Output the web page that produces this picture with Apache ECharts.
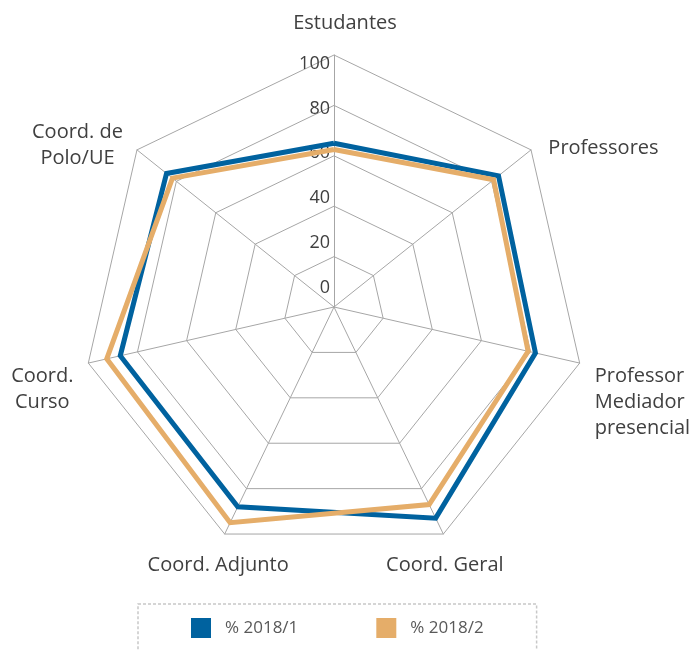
<!DOCTYPE html>
<html>
<head>
<meta charset="utf-8">
<script src="https://cdn.jsdelivr.net/npm/echarts@6/dist/echarts.min.js"></script>
<style>html,body{margin:0;padding:0;background:#fff}#c{width:694px;height:650px}</style>
</head>
<body>
<div id="c"></div>
<script>
// Indicators in ECharts order (counter-clockwise from top)
const categories = ['Estudantes', 'Coord. de\nPolo/UE', 'Coord.\nCurso', 'Coord. Adjunto', 'Coord. Geral', 'Professor\nMediador\npresencial', 'Professores'];
const seriesNames = ['% 2018/1', '% 2018/2'];
const values2018_1 = [65, 85, 87, 88, 93, 82, 83.5];
const values2018_2 = [62.5, 82, 92.5, 95, 87, 79, 81];
const axisMax = 100;

// name label placement per indicator (styling only)
const nameGaps = [15, 7, 0, 15, 15, 0, 3];
const nameStyles = [
  {align: 'center', verticalAlign: 'bottom', padding: [0, 0, 4, 22]},
  {align: 'center', verticalAlign: 'middle', padding: [0, 108, 0, 0]},
  {align: 'center', verticalAlign: 'top', padding: [0, 92, 0, 0]},
  {align: 'center', verticalAlign: 'top', padding: [5, 0, 0, 0]},
  {align: 'center', verticalAlign: 'top', padding: [5, 10, 0, 0]},
  {align: 'left', verticalAlign: 'top', padding: [0, 0, 0, 15]},
  {align: 'left', verticalAlign: 'middle', padding: [0, 0, 0, 15]}
];

const colors = ['#00629F', '#E5AD69'];
const gridColor = '#a6a6a6';
const textColor = '#404040';
const FONT = '"Open Sans", "Noto Sans", sans-serif';

const indicators = categories.map((c, i) => ({
  name: c, min: 0, max: axisMax,
  nameGap: nameGaps[i],
  nameTextStyle: nameStyles[i]
}));
const labelIndicators = categories.map((c, i) => (
  i === 0 ? {name: '', min: 0, max: axisMax, axisLabel: {show: true}} : {name: '', min: 0, max: axisMax}
));

const chart = echarts.init(document.getElementById('c'));
chart.setOption({
  animation: false,
  textStyle: {fontFamily: FONT},
  legend: {
    data: seriesNames,
    left: 138, top: 604,
    icon: 'rect', itemWidth: 20, itemHeight: 20, itemGap: 78,
    padding: [14, 53, 20, 53],
    borderColor: '#c8c8c8', borderWidth: 1.5, borderType: [3, 2],
    itemStyle: {borderWidth: 0},
    textStyle: {fontSize: 17, color: '#595959', fontFamily: FONT, padding: [0, 0, 0, 9]},
    selectedMode: false
  },
  radar: [{
    center: [334, 307],
    radius: 252,
    splitNumber: 5,
    shape: 'polygon',
    indicator: indicators,
    nameGap: 15,
    axisName: {color: textColor, fontSize: 20, lineHeight: 26, fontFamily: FONT},
    axisLine: {lineStyle: {color: gridColor, width: 1}},
    splitLine: {lineStyle: {color: gridColor, width: 1}},
    splitArea: {show: false},
    axisLabel: {show: false}
  }, {
    center: [334, 288],
    radius: 224.5,
    splitNumber: 5,
    shape: 'polygon',
    indicator: labelIndicators,
    axisName: {show: false},
    axisLine: {show: false},
    splitLine: {show: false},
    splitArea: {show: false},
    axisTick: {show: false},
    axisLabel: {show: false, margin: 4, color: textColor, fontSize: 18, fontFamily: FONT}
  }],
  series: [{
    type: 'radar',
    radarIndex: 0,
    symbol: 'none',
    data: [
      {name: seriesNames[0], value: values2018_1,
        lineStyle: {color: colors[0], width: 5, join: 'miter'}, itemStyle: {color: colors[0]}},
      {name: seriesNames[1], value: values2018_2,
        lineStyle: {color: colors[1], width: 5, join: 'miter'}, itemStyle: {color: colors[1]}}
    ]
  }]
});
</script>
</body>
</html>
